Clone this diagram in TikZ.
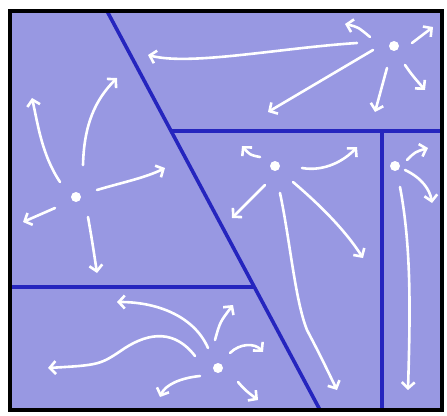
\documentclass[tikz,border=0pt]{standalone}
\usepackage{xcolor,tikz}
\usetikzlibrary{arrows.meta}
\definecolor{cellfill}{HTML}{9898E2}
\definecolor{wallblue}{HTML}{2525BE}
\tikzset{
 wall/.style={wallblue,line width=3.6pt},
 flow/.style={white,line width=2.6pt,line cap=round,-{Straight Barb[length=6pt,width=13pt]}},
 seed/.style={circle,fill=white,inner sep=0pt,minimum size=10pt}
}

\begin{document}
\begin{tikzpicture}[x=1pt,y=-1pt]
\useasboundingbox (0,0) rectangle (447,415);
\fill[cellfill] (10,11) rectangle (442,410);
% walls between the cells
\coordinate (dtop) at (107,11);
\coordinate (dbot) at (320,410);
\draw[wall] (dtop) -- (dbot);
\draw[wall] (171,131) -- (442,131);
\draw[wall] (10,287) -- (254,287);
\draw[wall] (382,131) -- (382,410);
\draw[black,line width=3.2pt] (10,11) rectangle (442,410);
% seeds
\node[seed] (tr) at (394,46) {};
\node[seed] (lf) at (76,197) {};
\node[seed] (md) at (275,166) {};
\node[seed] (rt) at (395,166) {};
\node[seed] (bt) at (218,368) {};
% top right
\draw[flow] (370,37) .. controls (358,27) .. (345,24);
\draw[flow] (412,43) -- (433,27);
\draw[flow] (405,65) .. controls (412,75) .. (425,90);
\draw[flow] (387,68) -- (375,112);
\draw[flow] (373,50) -- (268,112);
\draw[flow] (357,43) .. controls (280,48) and (190,66) .. (148,55);
% left
\draw[flow] (60,182) .. controls (42,155) and (38,125) .. (32,98);
\draw[flow] (83,165) .. controls (84,125) and (95,100) .. (117,78);
\draw[flow] (97,190) .. controls (120,183) and (145,178) .. (165,168);
\draw[flow] (55,208) -- (23,222);
\draw[flow] (88,217) .. controls (92,240) .. (97,273);
% middle
\draw[flow] (260,157) .. controls (250,155) .. (242,146);
\draw[flow] (302,168) .. controls (325,172) and (345,160) .. (357,147);
\draw[flow] (265,185) -- (232,218);
\draw[flow] (293,182) .. controls (320,205) and (345,230) .. (363,258);
\draw[flow] (280,193) .. controls (290,240) and (295,300) .. (307,330) .. controls (320,355) .. (337,390);
% right strip
\draw[flow] (407,160) .. controls (415,152) .. (428,148);
\draw[flow] (405,170) .. controls (422,178) and (430,190) .. (432,203);
\draw[flow] (400,187) .. controls (412,250) and (410,320) .. (408,390);
% bottom
\draw[flow] (208,348) .. controls (195,318) and (160,302) .. (117,302);
\draw[flow] (215,340) .. controls (220,322) .. (233,305);
\draw[flow] (230,353) .. controls (240,343) and (255,343) .. (263,352);
\draw[flow] (195,356) .. controls (175,330) and (150,332) .. (125,348) .. controls (100,365) .. (48,368);
\draw[flow] (200,376) .. controls (180,378) and (165,385) .. (160,397);
\draw[flow] (238,382) .. controls (245,390) .. (258,400);
\end{tikzpicture}
\end{document}
